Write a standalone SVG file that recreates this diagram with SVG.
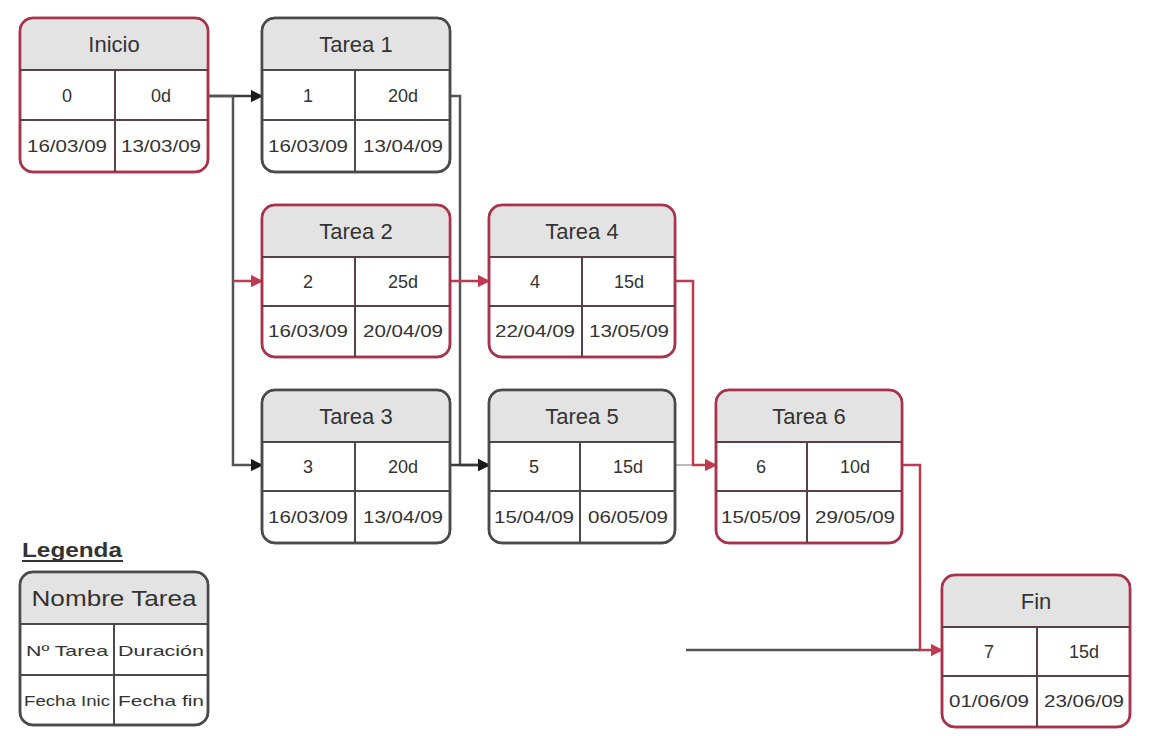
<svg xmlns="http://www.w3.org/2000/svg" width="1155" height="736" viewBox="0 0 1155 736">
<defs>
<style>
.box{fill:#ffffff;stroke:#4a4a4a;stroke-width:2.5}
.crit .box{stroke:#a8334a}
.hdr{fill:#e3e3e3}
.ln{stroke:#4a4a4a;stroke-width:2}
.crit .ln{stroke:#5a4048}
.t{font-family:"Liberation Sans",Arial,sans-serif;fill:#333;text-anchor:middle}
.h{font-size:22px}
.v{font-size:18px}
.d{font-size:16px}
.lg{font-size:15px}
.c{fill:none;stroke-width:2.5}
.blk{stroke:#3a3a3a}
.red{stroke:#c0394f}
.faint{stroke:#bbbbbb;stroke-width:2}
</style>
<marker id="ab" viewBox="0 0 10 10" refX="9" refY="5" markerWidth="5" markerHeight="5" orient="auto" markerUnits="strokeWidth"><path d="M0,0 L10,5 L0,10 z" fill="#1a1a1a"/></marker>
<marker id="ar" viewBox="0 0 10 10" refX="9" refY="5" markerWidth="5" markerHeight="5" orient="auto" markerUnits="strokeWidth"><path d="M0,0 L10,5 L0,10 z" fill="#c0394f"/></marker>
</defs>
<rect width="1155" height="736" fill="#ffffff"/>

<g id="connectors">
<path class="c blk" d="M208,96 H262" marker-end="url(#ab)"/>
<path class="c blk" d="M208,96 H233 V465 H262" marker-end="url(#ab)" style="stroke:#555"/>
<path class="c red" d="M233,281 H262" marker-end="url(#ar)"/>
<path class="c blk" d="M450,96 H460 V465 H489" marker-end="url(#ab)" style="stroke:#555"/>
<path class="c blk" d="M450,465 H489" marker-end="url(#ab)"/>
<path class="c red" d="M450,281 H489" marker-end="url(#ar)"/>
<path class="c faint" d="M675,465 H716"/>
<path class="c red" d="M675,281 H693 V465 H716" marker-end="url(#ar)"/>
<path class="c red" d="M902,465 H920 V650 H942" marker-end="url(#ar)"/>
<path class="c" d="M686,650 H920" style="stroke:#555"/>
</g>

<g id="inicio" class="crit" transform="translate(20,18)">
<rect class="box" width="188" height="154" rx="13"/>
<path class="hdr" d="M13,1.5 H175 A11.5,11.5 0 0 1 186.5,13 V52 H1.5 V13 A11.5,11.5 0 0 1 13,1.5 z"/>
<rect class="box" width="188" height="154" rx="13" style="fill:none"/>
<path class="ln" d="M0,52 H188 M0,102 H188 M95,52 V154"/>
<text class="t h" x="94" y="34">Inicio</text>
<text class="t v" x="47" y="84">0</text>
<text class="t v" x="141" y="84">0d</text>
<text class="t d" x="47" y="134" textLength="80" lengthAdjust="spacingAndGlyphs">16/03/09</text>
<text class="t d" x="141" y="134" textLength="80" lengthAdjust="spacingAndGlyphs">13/03/09</text>
</g>

<g id="tarea1" transform="translate(262,18)">
<rect class="box" width="188" height="154" rx="13"/>
<path class="hdr" d="M13,1.5 H175 A11.5,11.5 0 0 1 186.5,13 V52 H1.5 V13 A11.5,11.5 0 0 1 13,1.5 z"/>
<rect class="box" width="188" height="154" rx="13" style="fill:none"/>
<path class="ln" d="M0,52 H188 M0,102 H188 M93,52 V154"/>
<text class="t h" x="94" y="34">Tarea 1</text>
<text class="t v" x="46" y="84">1</text>
<text class="t v" x="141" y="84">20d</text>
<text class="t d" x="46" y="134" textLength="80" lengthAdjust="spacingAndGlyphs">16/03/09</text>
<text class="t d" x="141" y="134" textLength="80" lengthAdjust="spacingAndGlyphs">13/04/09</text>
</g>

<g id="tarea2" class="crit" transform="translate(262,205)">
<rect class="box" width="188" height="152" rx="13"/>
<path class="hdr" d="M13,1.5 H175 A11.5,11.5 0 0 1 186.5,13 V52 H1.5 V13 A11.5,11.5 0 0 1 13,1.5 z"/>
<rect class="box" width="188" height="152" rx="13" style="fill:none"/>
<path class="ln" d="M0,52 H188 M0,101 H188 M93,52 V152"/>
<text class="t h" x="94" y="34">Tarea 2</text>
<text class="t v" x="46" y="83">2</text>
<text class="t v" x="141" y="83">25d</text>
<text class="t d" x="46" y="132" textLength="80" lengthAdjust="spacingAndGlyphs">16/03/09</text>
<text class="t d" x="141" y="132" textLength="80" lengthAdjust="spacingAndGlyphs">20/04/09</text>
</g>

<g id="tarea4" class="crit" transform="translate(489,205)">
<rect class="box" width="186" height="152" rx="13"/>
<path class="hdr" d="M13,1.5 H173 A11.5,11.5 0 0 1 184.5,13 V52 H1.5 V13 A11.5,11.5 0 0 1 13,1.5 z"/>
<rect class="box" width="186" height="152" rx="13" style="fill:none"/>
<path class="ln" d="M0,52 H186 M0,101 H186 M93,52 V152"/>
<text class="t h" x="93" y="34">Tarea 4</text>
<text class="t v" x="46" y="83">4</text>
<text class="t v" x="140" y="83">15d</text>
<text class="t d" x="46" y="132" textLength="80" lengthAdjust="spacingAndGlyphs">22/04/09</text>
<text class="t d" x="140" y="132" textLength="80" lengthAdjust="spacingAndGlyphs">13/05/09</text>
</g>

<g id="tarea3" transform="translate(262,390)">
<rect class="box" width="188" height="153" rx="13"/>
<path class="hdr" d="M13,1.5 H175 A11.5,11.5 0 0 1 186.5,13 V52 H1.5 V13 A11.5,11.5 0 0 1 13,1.5 z"/>
<rect class="box" width="188" height="153" rx="13" style="fill:none"/>
<path class="ln" d="M0,52 H188 M0,101 H188 M93,52 V153"/>
<text class="t h" x="94" y="34">Tarea 3</text>
<text class="t v" x="46" y="83">3</text>
<text class="t v" x="141" y="83">20d</text>
<text class="t d" x="46" y="133" textLength="80" lengthAdjust="spacingAndGlyphs">16/03/09</text>
<text class="t d" x="141" y="133" textLength="80" lengthAdjust="spacingAndGlyphs">13/04/09</text>
</g>

<g id="tarea5" transform="translate(489,390)">
<rect class="box" width="186" height="153" rx="13"/>
<path class="hdr" d="M13,1.5 H173 A11.5,11.5 0 0 1 184.5,13 V52 H1.5 V13 A11.5,11.5 0 0 1 13,1.5 z"/>
<rect class="box" width="186" height="153" rx="13" style="fill:none"/>
<path class="ln" d="M0,52 H186 M0,101 H186 M91,52 V153"/>
<text class="t h" x="93" y="34">Tarea 5</text>
<text class="t v" x="45" y="83">5</text>
<text class="t v" x="139" y="83">15d</text>
<text class="t d" x="45" y="133" textLength="80" lengthAdjust="spacingAndGlyphs">15/04/09</text>
<text class="t d" x="139" y="133" textLength="80" lengthAdjust="spacingAndGlyphs">06/05/09</text>
</g>

<g id="tarea6" class="crit" transform="translate(716,390)">
<rect class="box" width="186" height="153" rx="13"/>
<path class="hdr" d="M13,1.5 H173 A11.5,11.5 0 0 1 184.5,13 V52 H1.5 V13 A11.5,11.5 0 0 1 13,1.5 z"/>
<rect class="box" width="186" height="153" rx="13" style="fill:none"/>
<path class="ln" d="M0,52 H186 M0,101 H186 M91,52 V153"/>
<text class="t h" x="93" y="34">Tarea 6</text>
<text class="t v" x="45" y="83">6</text>
<text class="t v" x="139" y="83">10d</text>
<text class="t d" x="45" y="133" textLength="80" lengthAdjust="spacingAndGlyphs">15/05/09</text>
<text class="t d" x="139" y="133" textLength="80" lengthAdjust="spacingAndGlyphs">29/05/09</text>
</g>

<g id="fin" class="crit" transform="translate(942,575)">
<rect class="box" width="188" height="152" rx="13"/>
<path class="hdr" d="M13,1.5 H175 A11.5,11.5 0 0 1 186.5,13 V52 H1.5 V13 A11.5,11.5 0 0 1 13,1.5 z"/>
<rect class="box" width="188" height="152" rx="13" style="fill:none"/>
<path class="ln" d="M0,52 H188 M0,101 H188 M95,52 V152"/>
<text class="t h" x="94" y="34">Fin</text>
<text class="t v" x="47" y="83">7</text>
<text class="t v" x="142" y="83">15d</text>
<text class="t d" x="47" y="132" textLength="80" lengthAdjust="spacingAndGlyphs">01/06/09</text>
<text class="t d" x="142" y="132" textLength="80" lengthAdjust="spacingAndGlyphs">23/06/09</text>
</g>

<g id="legenda">
<text x="22" y="557" font-family="Liberation Sans, Arial, sans-serif" font-size="21" font-weight="bold" fill="#333" textLength="100" lengthAdjust="spacingAndGlyphs">Legenda</text>
<line x1="22" y1="561" x2="123" y2="561" stroke="#333" stroke-width="2"/>
<g transform="translate(20,572)">
<rect class="box" width="188" height="153" rx="13"/>
<path class="hdr" d="M13,1.5 H175 A11.5,11.5 0 0 1 186.5,13 V52 H1.5 V13 A11.5,11.5 0 0 1 13,1.5 z"/>
<rect class="box" width="188" height="153" rx="13" style="fill:none"/>
<path class="ln" d="M0,52 H188 M0,103 H188 M94,52 V153"/>
<text class="t h" x="94" y="34" textLength="165" lengthAdjust="spacingAndGlyphs">Nombre Tarea</text>
<text class="t lg" x="47" y="84" textLength="82" lengthAdjust="spacingAndGlyphs">Nº Tarea</text>
<text class="t lg" x="141" y="84" textLength="86" lengthAdjust="spacingAndGlyphs">Duración</text>
<text class="t lg" x="47" y="134" textLength="86" lengthAdjust="spacingAndGlyphs">Fecha Inic</text>
<text class="t lg" x="141" y="134" textLength="86" lengthAdjust="spacingAndGlyphs">Fecha fin</text>
</g>
</g>
</svg>
